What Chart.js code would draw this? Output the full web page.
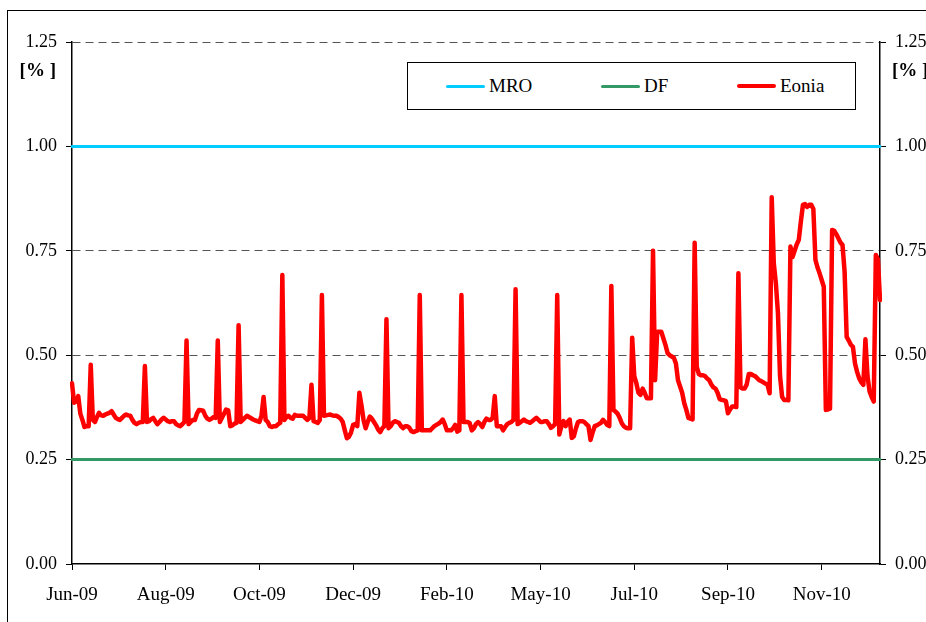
<!DOCTYPE html>
<html>
<head>
<meta charset="utf-8">
<title>Eonia, MRO and DF</title>
<script src="https://cdn.jsdelivr.net/npm/chart.js@4.4.1/dist/chart.umd.min.js"></script>
<style>
  body { margin: 0; background: #fff; }
  #wrap { position: relative; width: 926px; height: 622px; overflow: hidden; background: #fff; }
  #frame { position: absolute; left: 7px; top: 10px; width: 1000px; height: 1000px; border: 1px solid #000; }
  #legend { position: absolute; left: 407px; top: 62px; width: 447px; height: 46px; border: 1px solid #000; background: #fff;
            font-family: 'Liberation Serif', 'Times New Roman', serif; font-size: 19px; color: #000; }
  #legend .item { position: absolute; top: 0; height: 46px; display: flex; align-items: center; }
  #legend .sw { display: inline-block; width: 39px; margin-right: 4px; border-radius: 2px; }
  canvas { position: absolute; left: 0; top: 0; }
</style>
</head>
<body>
<div id="wrap">
  <div id="frame"></div>
  <canvas id="chart" width="926" height="622"></canvas>
  <div id="legend"></div>
</div>
<script>
// tick labels, one every 45 trading days
const tickLabels = ['Jun-09', 'Aug-09', 'Oct-09', 'Dec-09', 'Feb-10', 'May-10', 'Jul-10', 'Sep-10', 'Nov-10'];
const tickEvery = 45;
const yTicks = [0, 0.25, 0.5, 0.75, 1.0, 1.25];

// policy rates (%)
const mroRate = 1.00;
const dfRate = 0.25;

// Eonia, daily (%)
const eonia = [
  0.433, 0.386, 0.39, 0.402, 0.36, 0.345, 0.328, 0.33, 0.33, 0.477,
  0.345, 0.34, 0.352, 0.362, 0.356, 0.355, 0.358, 0.36, 0.362, 0.366,
  0.358, 0.35, 0.347, 0.345, 0.35, 0.355, 0.358, 0.356, 0.355, 0.345,
  0.338, 0.335, 0.338, 0.34, 0.34, 0.474, 0.34, 0.342, 0.347, 0.35,
  0.342, 0.335, 0.34, 0.346, 0.35, 0.346, 0.342, 0.34, 0.342, 0.342,
  0.335, 0.332, 0.33, 0.335, 0.34, 0.535, 0.335, 0.34, 0.345, 0.345,
  0.36, 0.369, 0.368, 0.367, 0.355, 0.348, 0.345, 0.348, 0.352, 0.35,
  0.535, 0.34, 0.35, 0.36, 0.37, 0.368, 0.33, 0.332, 0.336, 0.338,
  0.572, 0.34, 0.345, 0.35, 0.355, 0.352, 0.349, 0.346, 0.344, 0.342,
  0.34, 0.355, 0.40, 0.345, 0.34, 0.33, 0.328, 0.33, 0.33, 0.335,
  0.338, 0.692, 0.345, 0.352, 0.355, 0.35, 0.348, 0.357, 0.355, 0.355,
  0.355, 0.355, 0.35, 0.345, 0.35, 0.429, 0.342, 0.34, 0.338, 0.345,
  0.644, 0.355, 0.356, 0.357, 0.358, 0.356, 0.355, 0.355, 0.352, 0.348,
  0.34, 0.32, 0.301, 0.305, 0.315, 0.333, 0.335, 0.33, 0.41, 0.38,
  0.345, 0.325, 0.34, 0.353, 0.348, 0.34, 0.332, 0.322, 0.316, 0.325,
  0.33, 0.586, 0.325, 0.33, 0.338, 0.342, 0.34, 0.338, 0.33, 0.325,
  0.33, 0.33, 0.326, 0.318, 0.316, 0.318, 0.32, 0.644, 0.32, 0.32,
  0.32, 0.32, 0.32, 0.325, 0.33, 0.333, 0.336, 0.34, 0.346, 0.335,
  0.32, 0.32, 0.32, 0.325, 0.333, 0.317, 0.32, 0.644, 0.34, 0.34,
  0.34, 0.337, 0.32, 0.325, 0.335, 0.34, 0.335, 0.328, 0.34, 0.348,
  0.345, 0.345, 0.35, 0.402, 0.33, 0.33, 0.33, 0.32, 0.328, 0.335,
  0.338, 0.34, 0.345, 0.658, 0.335, 0.338, 0.342, 0.346, 0.342, 0.34,
  0.338, 0.342, 0.346, 0.35, 0.345, 0.34, 0.34, 0.342, 0.342, 0.335,
  0.326, 0.33, 0.335, 0.644, 0.31, 0.33, 0.342, 0.33, 0.34, 0.346,
  0.302, 0.306, 0.325, 0.34, 0.342, 0.342, 0.34, 0.335, 0.33, 0.297,
  0.315, 0.33, 0.332, 0.335, 0.338, 0.345, 0.34, 0.333, 0.33, 0.666,
  0.369, 0.365, 0.36, 0.35, 0.337, 0.33, 0.326, 0.325, 0.325, 0.542,
  0.45, 0.433, 0.41, 0.405, 0.42, 0.41, 0.397, 0.397, 0.397, 0.75,
  0.44, 0.556, 0.556, 0.556, 0.54, 0.524, 0.505, 0.5, 0.497, 0.494,
  0.48, 0.44, 0.425, 0.41, 0.385, 0.369, 0.35, 0.348, 0.346, 0.769,
  0.472, 0.455, 0.452, 0.452, 0.45, 0.444, 0.44, 0.43, 0.423, 0.42,
  0.41, 0.395, 0.393, 0.392, 0.39, 0.361, 0.37, 0.377, 0.377, 0.376,
  0.696, 0.423, 0.42, 0.42, 0.43, 0.455, 0.455, 0.452, 0.45, 0.445,
  0.44, 0.438, 0.435, 0.432, 0.429, 0.409, 0.878, 0.72, 0.672, 0.60,
  0.45, 0.40, 0.393, 0.393, 0.392, 0.76, 0.735, 0.75, 0.765, 0.776,
  0.82, 0.86, 0.862, 0.855, 0.86, 0.86, 0.85, 0.728, 0.71, 0.696,
  0.68, 0.664, 0.369, 0.37, 0.372, 0.80, 0.798, 0.79, 0.78, 0.77,
  0.764, 0.70, 0.544, 0.535, 0.525, 0.52, 0.48, 0.46, 0.445, 0.435,
  0.429, 0.538, 0.45, 0.413, 0.40, 0.389, 0.74, 0.73, 0.632
];

const labels = eonia.map((v, i) => (i % tickEvery === 0 ? tickLabels[i / tickEvery] : ''));
const mro = eonia.map(() => mroRate);
const df = eonia.map(() => dfRate);

const serif = "'Liberation Serif', 'Times New Roman', serif";

const datasets = [
  { label: 'MRO', data: mro, borderColor: '#00ccff', borderWidth: 3, order: 2 },
  { label: 'DF', data: df, borderColor: '#339966', borderWidth: 3, order: 2 },
  { label: 'Eonia', data: eonia, borderColor: '#ff0000', borderWidth: 4.5, order: 1 }
];

// legend box drawn as html
const legendPos = [38, 193, 329];
let legendHtml = '';
datasets.forEach(function(ds, i) {
  legendHtml += `<div class="item" style="left:${legendPos[i]}px">
      <span class="sw" style="background:${ds.borderColor};height:${Math.min(ds.borderWidth, 4)}px"></span>${ds.label}</div>`;
});
document.getElementById('legend').innerHTML = legendHtml;

const unitLabel = {
  id: 'unitLabel',
  afterDraw(chart) {
    const ctx = chart.ctx;
    ctx.save();
    ctx.font = 'bold 19px ' + serif;
    ctx.fillStyle = '#000';
    ctx.textBaseline = 'middle';
    ctx.textAlign = 'right';
    ctx.fillText('[% ]', 56, 71);
    ctx.textAlign = 'left';
    ctx.fillText('[% ]', 892, 71);
    ctx.restore();
  }
};

const yAxis = function(pos) {
  return {
    type: 'linear',
    position: pos,
    min: 0,
    max: 1.25,
    afterBuildTicks: s => { s.ticks = yTicks.map(v => ({ value: v })); },
    afterFit: s => { s.width = pos === 'left' ? 72 : 46; },
    ticks: {
      padding: 9,
      color: '#000',
      font: { family: serif, size: 18 },
      callback: v => Number(v).toFixed(2)
    },
    border: { display: true, color: '#000', width: 1.5, dash: [8, 5] },
    grid: {
      drawOnChartArea: pos === 'left',
      color: c => (c.tick && (c.tick.value === 0.25 || c.tick.value === 1 || c.tick.value === 0) ? 'rgba(0,0,0,0)' : '#555'),
      lineWidth: 1,
      tickLength: 6,
      tickColor: '#000'
    }
  };
};

new Chart(document.getElementById('chart'), {
  type: 'line',
  data: { labels: labels, datasets: datasets },
  options: {
    responsive: false,
    animation: false,
    layout: { padding: { top: 42, left: 0, right: 0, bottom: 0 } },
    elements: {
      point: { radius: 0 },
      line: { tension: 0, borderJoinStyle: 'round', borderCapStyle: 'round', fill: false }
    },
    plugins: { legend: { display: false }, tooltip: { enabled: false } },
    scales: {
      x: {
        type: 'category',
        offset: false,
        afterFit: s => { s.height = 58; },
        ticks: {
          autoSkip: false,
          maxRotation: 0,
          minRotation: 0,
          padding: 14,
          color: '#000',
          font: { family: serif, size: 19 },
          callback: (v, i) => labels[i]
        },
        border: { display: true, color: '#000', width: 1.5 },
        grid: {
          drawOnChartArea: false,
          tickLength: 6,
          tickColor: c => (c.index % tickEvery === 0 ? '#000' : 'rgba(0,0,0,0)')
        }
      },
      y: yAxis('left'),
      y2: yAxis('right')
    }
  },
  plugins: [unitLabel]
});
</script>
</body>
</html>
